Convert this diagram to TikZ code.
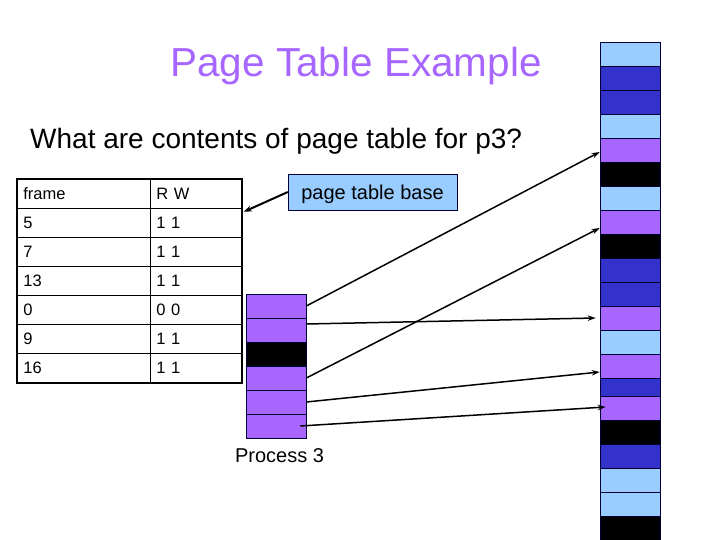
\documentclass[tikz,border=0pt]{standalone}
\usepackage{fontspec}
\setmainfont{Liberation Sans}
\usetikzlibrary{arrows.meta}
\definecolor{pgltblue}{RGB}{153,204,255}
\definecolor{pgdkblue}{RGB}{51,51,204}
\definecolor{pgpurple}{RGB}{166,102,255}
\definecolor{pgline}{RGB}{0,0,51}

\begin{document}
\begin{tikzpicture}[x=1pt, y=-1pt,
    fcell/.style={draw=pgline, line width=0.6pt, minimum width=60pt, minimum height=24pt, inner sep=0pt},
    tcell/.style={draw, line width=0.8pt, anchor=north west, inner xsep=6pt, inner ysep=0pt, minimum height=29pt, text height=12pt, text depth=0pt, align=left, font=\fontsize{16.5}{19}\selectfont},
    frcell/.style={tcell, text width=121pt},
    rwcell/.style={tcell, text width=79pt},
    map/.style={-{Stealth[length=8pt,width=5.5pt]}, line width=1.5pt}]
    \useasboundingbox (0,0) rectangle (720,540);

    \node[text=pgpurple, font=\fontsize{40.5}{46}\selectfont, anchor=base, inner sep=0pt] (title) at (356,77) {Page Table Example};
    \node[font=\fontsize{28}{33}\selectfont, anchor=base west, inner sep=0pt] (question) at (30,149) {What are contents of page table for p3?};

    % page table
    \node[frcell] (fr0) at (17,179) {frame};
    \node[rwcell] (rw0) at (150,179) {R W};
    \node[frcell] (fr1) at (17,208) {5};
    \node[rwcell] (rw1) at (150,208) {1 1};
    \node[frcell] (fr2) at (17,237) {7};
    \node[rwcell] (rw2) at (150,237) {1 1};
    \node[frcell] (fr3) at (17,266) {13};
    \node[rwcell] (rw3) at (150,266) {1 1};
    \node[frcell] (fr4) at (17,295) {0};
    \node[rwcell] (rw4) at (150,295) {0 0};
    \node[frcell] (fr5) at (17,324) {9};
    \node[rwcell] (rw5) at (150,324) {1 1};
    \node[frcell] (fr6) at (17,353) {16};
    \node[rwcell] (rw6) at (150,353) {1 1};
    \draw[line width=2pt] (fr0.north west) rectangle (rw6.south east);

    \node[draw=pgline, fill=pgltblue, minimum width=169pt, minimum height=36pt, font=\fontsize{20}{24}\selectfont, text height=14.3pt, text depth=0pt] (base) at (372.5,192) {page table base};
    \draw[-{Stealth[length=8pt,width=6pt]}, line width=2pt] (base.west) -- ([xshift=2pt,yshift=-3pt]rw0.south east);

    % process 3 pages
    \node[fcell, fill=pgpurple] (p0) at (276,306) {};
    \node[fcell, fill=pgpurple] (p1) at (276,330) {};
    \node[fcell, fill=black] (p2) at (276,354) {};
    \node[fcell, fill=pgpurple] (p3) at (276,378) {};
    \node[fcell, fill=pgpurple] (p4) at (276,402) {};
    \node[fcell, fill=pgpurple] (p5) at (276,426) {};
    \node[font=\fontsize{20}{24}\selectfont, anchor=base, inner sep=0pt] (proc) at (279.5,462) {Process 3};

    % physical frames
    \node[fcell, fill=pgltblue] (f0) at (630,54) {};
    \node[fcell, fill=pgdkblue] (f1) at (630,78) {};
    \node[fcell, fill=pgdkblue] (f2) at (630,102) {};
    \node[fcell, fill=pgltblue] (f3) at (630,126) {};
    \node[fcell, fill=pgpurple] (f4) at (630,150) {};
    \node[fcell, fill=black] (f5) at (630,174) {};
    \node[fcell, fill=pgltblue] (f6) at (630,198) {};
    \node[fcell, fill=pgpurple] (f7) at (630,222) {};
    \node[fcell, fill=black] (f8) at (630,246) {};
    \node[fcell, fill=pgdkblue] (f9) at (630,270) {};
    \node[fcell, fill=pgdkblue] (f10) at (630,294) {};
    \node[fcell, fill=pgpurple] (f11) at (630,318) {};
    \node[fcell, fill=pgltblue] (f12) at (630,342) {};
    \node[fcell, fill=pgpurple] (f13) at (630,366) {};
    \node[fcell, fill=pgdkblue, minimum height=18pt] (f14) at (630,387) {};
    \node[fcell, fill=pgpurple] (f15) at (630,408) {};
    \node[fcell, fill=black] (f16) at (630,432) {};
    \node[fcell, fill=pgdkblue] (f17) at (630,456) {};
    \node[fcell, fill=pgltblue] (f18) at (630,480) {};
    \node[fcell, fill=pgltblue] (f19) at (630,504) {};
    \node[fcell, fill=black] (f20) at (630,528) {};

    \draw[map] (p0.east) -- ([yshift=-2pt]f4.west);
    \draw[map] ([yshift=6pt]p1.east) -- ([xshift=-4pt]f11.west);
    \draw[map] (p3.east) -- ([yshift=-6pt]f7.west);
    \draw[map] (p4.east) -- ([yshift=-6pt]f13.west);
    \draw[map] ([xshift=-6pt]p5.east) -- ([xshift=6pt,yshift=1pt]f15.west);
\end{tikzpicture}
\end{document}
